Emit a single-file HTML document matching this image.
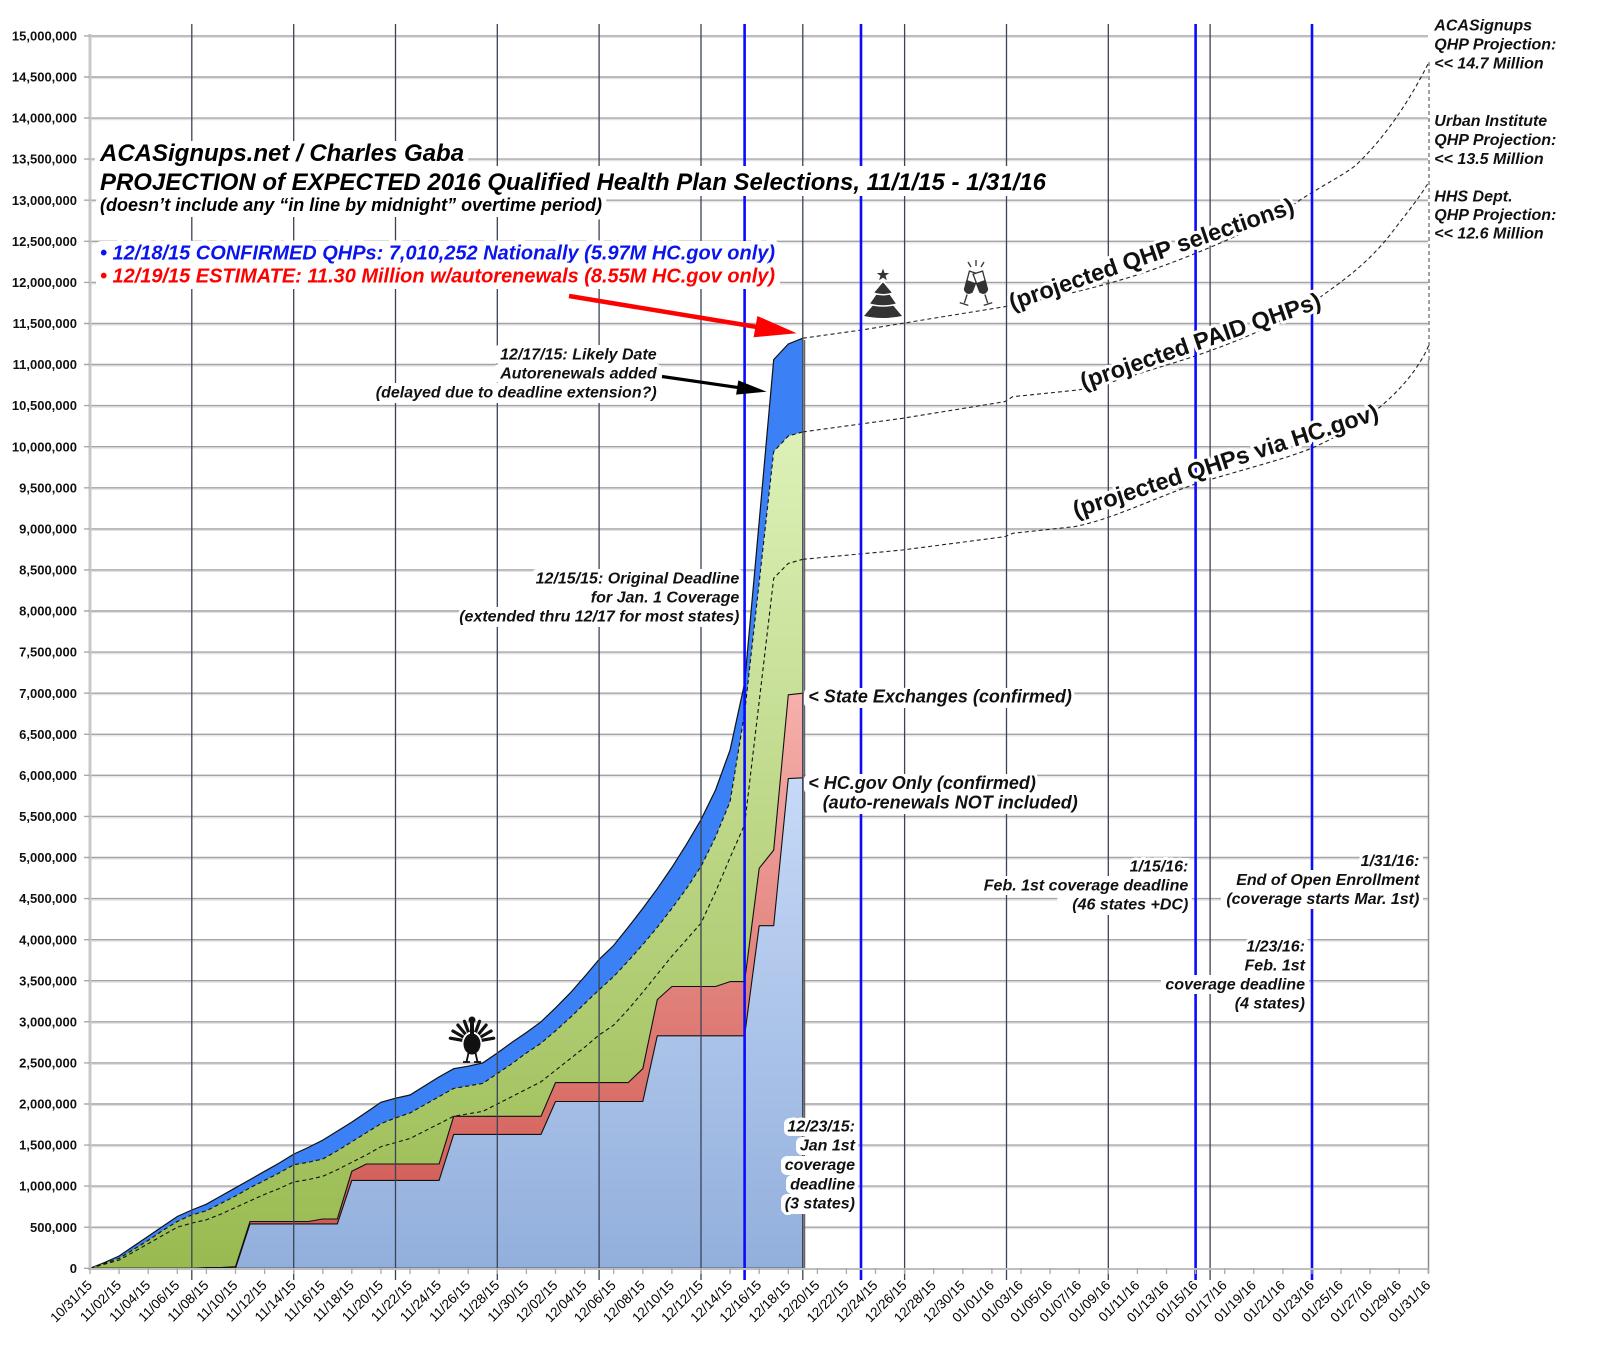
<!DOCTYPE html>
<html><head><meta charset="utf-8"><style>
html,body{margin:0;padding:0;background:#fff;}
svg{display:block;}
text{font-family:"Liberation Sans",Arial,sans-serif;}
.bi{font-weight:bold;font-style:italic;}
.h{stroke:#fff;stroke-width:6px;stroke-linejoin:round;paint-order:stroke fill;}
.hw{stroke:#fff;stroke-width:10px;stroke-linejoin:round;paint-order:stroke fill;}
.yl{font-weight:bold;font-size:13px;text-anchor:end;fill:#111;}
.xl{font-size:13.5px;text-anchor:end;fill:#000;}
.an{font-weight:bold;font-style:italic;font-size:16px;fill:#111;}
</style></head><body>
<svg width="1600" height="1350" viewBox="0 0 1600 1350" xmlns="http://www.w3.org/2000/svg">
<defs>
<linearGradient id="gg" gradientUnits="userSpaceOnUse" x1="0" y1="430" x2="0" y2="1268"><stop offset="0" stop-color="#ddf1b8"/><stop offset="1" stop-color="#99ba50"/></linearGradient>
<linearGradient id="rg" gradientUnits="userSpaceOnUse" x1="0" y1="693" x2="0" y2="1268"><stop offset="0" stop-color="#f6b0ab"/><stop offset="1" stop-color="#cd544d"/></linearGradient>
<linearGradient id="bg" gradientUnits="userSpaceOnUse" x1="0" y1="778" x2="0" y2="1268"><stop offset="0" stop-color="#c6d9f7"/><stop offset="1" stop-color="#92afdc"/></linearGradient>
</defs>
<rect width="1600" height="1350" fill="#fff"/>

<path stroke="#e2e2e2" stroke-width="1.2" fill="none" d="M90 1228.7H1428M90 1187.6H1428M90 1146.6H1428M90 1105.5H1428M90 1064.4H1428M90 1023.3H1428M90 982.2H1428M90 941.2H1428M90 900.1H1428M90 859H1428M90 817.9H1428M90 776.8H1428M90 735.8H1428M90 694.7H1428M90 653.6H1428M90 612.5H1428M90 571.4H1428M90 530.4H1428M90 489.3H1428M90 448.2H1428M90 407.1H1428M90 366H1428M90 325H1428M90 283.9H1428M90 242.8H1428M90 201.7H1428M90 160.6H1428M90 119.6H1428M90 78.5H1428M90 37.4H1428"/>
<path stroke="#a4a4a4" stroke-width="1.4" fill="none" d="M90 1227.2H1428M90 1186.1H1428M90 1145.1H1428M90 1104H1428M90 1062.9H1428M90 1021.8H1428M90 980.7H1428M90 939.7H1428M90 898.6H1428M90 857.5H1428M90 816.4H1428M90 775.3H1428M90 734.3H1428M90 693.2H1428M90 652.1H1428M90 611H1428M90 569.9H1428M90 528.9H1428M90 487.8H1428M90 446.7H1428M90 405.6H1428M90 364.5H1428M90 323.5H1428M90 282.4H1428M90 241.3H1428M90 200.2H1428M90 159.1H1428M90 118.1H1428M90 77H1428M90 35.9H1428"/>

<polygon fill="#3b80f4" points="90,1268.3 104.5,1262.5 119.1,1256.0 133.6,1246.1 148.2,1236.3 162.7,1226.4 177.3,1216.5 191.8,1210.0 206.4,1204.2 220.9,1196.0 235.5,1187.8 250.0,1179.6 264.6,1171.3 279.1,1163.1 293.7,1154.1 308.2,1147.5 322.8,1140.1 337.3,1131.1 351.8,1122.1 366.4,1112.2 380.9,1102.3 395.5,1098.2 410.0,1095.0 424.6,1085.9 439.1,1076.9 453.7,1068.7 468.2,1066.2 482.8,1062.9 497.3,1053.0 511.9,1042.4 526.4,1032.5 541.0,1021.8 555.5,1007.9 570.1,993.1 584.6,976.6 599.1,959.4 613.7,945.4 628.2,927.3 642.8,908.4 657.3,888.7 671.9,867.4 686.4,844.4 701.0,819.7 715.5,790.1 730.1,749.9 744.6,683.3 759.2,521.5 773.7,359.6 788.3,344.0 802.8,338.2 802.8,1268.3"/>
<polyline fill="none" stroke="#111" stroke-width="1.2" points="90,1268.3 104.5,1262.5 119.1,1256.0 133.6,1246.1 148.2,1236.3 162.7,1226.4 177.3,1216.5 191.8,1210.0 206.4,1204.2 220.9,1196.0 235.5,1187.8 250.0,1179.6 264.6,1171.3 279.1,1163.1 293.7,1154.1 308.2,1147.5 322.8,1140.1 337.3,1131.1 351.8,1122.1 366.4,1112.2 380.9,1102.3 395.5,1098.2 410.0,1095.0 424.6,1085.9 439.1,1076.9 453.7,1068.7 468.2,1066.2 482.8,1062.9 497.3,1053.0 511.9,1042.4 526.4,1032.5 541.0,1021.8 555.5,1007.9 570.1,993.1 584.6,976.6 599.1,959.4 613.7,945.4 628.2,927.3 642.8,908.4 657.3,888.7 671.9,867.4 686.4,844.4 701.0,819.7 715.5,790.1 730.1,749.9 744.6,683.3 759.2,521.5 773.7,359.6 788.3,344.0 802.8,338.2"/>

<polygon fill="url(#gg)" points="90,1268.3 104.5,1263.4 119.1,1258.4 133.6,1249.4 148.2,1240.4 162.7,1230.5 177.3,1221.5 191.8,1214.9 206.4,1210.8 220.9,1203.4 235.5,1196.0 250.0,1187.8 264.6,1180.4 279.1,1173.0 293.7,1164.8 308.2,1162.3 322.8,1159.0 337.3,1150.8 351.8,1141.8 366.4,1132.7 380.9,1123.7 395.5,1117.9 410.0,1113.0 424.6,1104.8 439.1,1096.6 453.7,1088.4 468.2,1085.9 482.8,1083.4 497.3,1073.6 511.9,1063.7 526.4,1053.0 541.0,1043.2 555.5,1030.9 570.1,1017.7 584.6,1003.7 599.1,989.8 613.7,976.6 628.2,961.0 642.8,944.6 657.3,927.3 671.9,908.4 686.4,888.7 701.0,866.5 715.5,837.0 730.1,801.6 744.6,712.9 759.2,582.3 773.7,451.6 788.3,436.0 802.8,431.9 802.8,1268.3"/>
<polyline fill="none" stroke="#111" stroke-width="1.1" stroke-dasharray="4 3" points="90,1268.3 104.5,1263.4 119.1,1258.4 133.6,1249.4 148.2,1240.4 162.7,1230.5 177.3,1221.5 191.8,1214.9 206.4,1210.8 220.9,1203.4 235.5,1196.0 250.0,1187.8 264.6,1180.4 279.1,1173.0 293.7,1164.8 308.2,1162.3 322.8,1159.0 337.3,1150.8 351.8,1141.8 366.4,1132.7 380.9,1123.7 395.5,1117.9 410.0,1113.0 424.6,1104.8 439.1,1096.6 453.7,1088.4 468.2,1085.9 482.8,1083.4 497.3,1073.6 511.9,1063.7 526.4,1053.0 541.0,1043.2 555.5,1030.9 570.1,1017.7 584.6,1003.7 599.1,989.8 613.7,976.6 628.2,961.0 642.8,944.6 657.3,927.3 671.9,908.4 686.4,888.7 701.0,866.5 715.5,837.0 730.1,801.6 744.6,712.9 759.2,582.3 773.7,451.6 788.3,436.0 802.8,431.9"/>

<polyline fill="none" stroke="#111" stroke-width="1.1" stroke-dasharray="4 3" points="90,1268.3 104.5,1264.2 119.1,1260.1 133.6,1251.9 148.2,1243.7 162.7,1235.4 177.3,1227.2 191.8,1223.1 206.4,1219.8 220.9,1214.1 235.5,1207.5 250.0,1200.9 264.6,1194.4 279.1,1188.6 293.7,1182.0 308.2,1179.6 322.8,1176.3 337.3,1169.7 351.8,1162.3 366.4,1154.9 380.9,1146.7 395.5,1142.6 410.0,1138.5 424.6,1131.1 439.1,1123.7 453.7,1116.3 468.2,1113.8 482.8,1111.4 497.3,1104.0 511.9,1096.6 526.4,1089.2 541.0,1081.8 555.5,1070.3 570.1,1058.8 584.6,1047.3 599.1,1035.0 613.7,1025.1 628.2,1009.5 642.8,992.2 657.3,974.2 671.9,956.1 686.4,939.7 701.0,923.2 715.5,892.0 730.1,857.5 744.6,824.6 759.2,701.4 773.7,578.2 788.3,563.4 802.8,559.3"/>

<path fill="url(#rg)" stroke="#111" stroke-width="1.1" stroke-linejoin="round" d="M90,1268.3 L191.8,1268.3 L206.4,1267.5 L220.9,1267.5 L235.5,1266.7 L250.0,1221.5 L308.2,1221.5 L322.8,1219.0 L337.3,1219.0 L351.8,1171.3 L366.4,1164.0 L439.1,1164.0 L453.7,1116.3 L541.0,1116.3 L555.5,1082.6 L628.2,1082.6 L642.8,1068.7 L657.3,999.6 L671.9,986.5 L715.5,986.5 L730.1,981.6 L744.6,981.6 L759.2,868.2 L773.7,850.1 L788.3,694.8 L802.8,693.2 L802.8,1268.3 Z"/>
<path fill="url(#bg)" stroke="#111" stroke-width="1.1" stroke-linejoin="round" d="M90,1268.3 L235.5,1268.3 L250.0,1223.9 L337.3,1223.9 L351.8,1180.4 L439.1,1180.4 L453.7,1134.4 L541.0,1134.4 L555.5,1101.5 L642.8,1101.5 L657.3,1035.8 L744.6,1035.8 L759.2,925.7 L773.7,925.7 L788.3,778.6 L802.8,777.8 L802.8,1268.3 Z"/>
<line x1="804.5" y1="340" x2="804.5" y2="1268" stroke="#666" stroke-width="1.5"/>

<g fill="none" stroke="#222" stroke-width="1.1" stroke-dasharray="4 3">
<path d="M802.8,338.2 L861.7,330 L902.5,323.3 L1004.6,306.7 C1060,297 1120,282 1160,267 C1220,245 1270,222 1300,200 C1325,184 1340,177 1355,166 C1385,138 1410,100 1429,62"/>
<path d="M802.8,431.9 L902.5,418.3 L1004.6,401.7 L1012.8,396.7 L1078,390 C1110,384 1140,373 1170,364 C1230,346 1290,320 1323,295 C1350,276 1370,260 1390,235 C1405,215 1418,200 1429,181.7"/>
<path d="M802.8,559.3 L902.5,550 L1004.6,536.7 L1012.8,533.3 L1074,526.7 C1110,520 1150,500 1192.5,485 C1240,470 1290,458 1315,446.7 C1345,433 1365,420 1380.3,406.7 C1400,390 1418,370 1429,345"/>
<path d="M1429,62 V360" stroke="#555"/>
</g>

<path stroke="#3a4456" stroke-width="1.3" fill="none" d="M191.8 24V1280M293.7 24V1280M395.5 24V1280M497.3 24V1280M599.1 24V1280M701 24V1280M802.8 24V1280M904.6 24V1280M1006.5 24V1280M1108.3 24V1280M1210.1 24V1280"/>
<path stroke="#0a0aff" stroke-width="2.6" fill="none" d="M744.6 24V1280M861 24V1280M1195.6 24V1280M1312 24V1280"/>

<line x1="90" y1="34" x2="90" y2="1270" stroke="#c8c8c8" stroke-width="3"/>
<line x1="88" y1="1269" x2="1429" y2="1269" stroke="#bdbdbd" stroke-width="2"/>
<line x1="1428.5" y1="360" x2="1428.5" y2="1273" stroke="#8a8a8a" stroke-width="1.5"/>
<path stroke="#aaa" stroke-width="1.4" fill="none" d="M84 1268.3H90M84 1227.2H90M84 1186.1H90M84 1145.1H90M84 1104H90M84 1062.9H90M84 1021.8H90M84 980.7H90M84 939.7H90M84 898.6H90M84 857.5H90M84 816.4H90M84 775.3H90M84 734.3H90M84 693.2H90M84 652.1H90M84 611H90M84 569.9H90M84 528.9H90M84 487.8H90M84 446.7H90M84 405.6H90M84 364.5H90M84 323.5H90M84 282.4H90M84 241.3H90M84 200.2H90M84 159.1H90M84 118.1H90M84 77H90M84 35.9H90"/>
<path stroke="#aaa" stroke-width="1.3" fill="none" d="M90 1268V1274M119.1 1268V1274M148.2 1268V1274M177.3 1268V1274M206.4 1268V1274M235.5 1268V1274M264.6 1268V1274M293.7 1268V1274M322.8 1268V1274M351.8 1268V1274M380.9 1268V1274M410 1268V1274M439.1 1268V1274M468.2 1268V1274M497.3 1268V1274M526.4 1268V1274M555.5 1268V1274M584.6 1268V1274M613.7 1268V1274M642.8 1268V1274M671.9 1268V1274M701 1268V1274M730.1 1268V1274M759.2 1268V1274M788.3 1268V1274M817.4 1268V1274M846.4 1268V1274M875.5 1268V1274M904.6 1268V1274M933.7 1268V1274M962.8 1268V1274M991.9 1268V1274M1021 1268V1274M1050.1 1268V1274M1079.2 1268V1274M1108.3 1268V1274M1137.4 1268V1274M1166.5 1268V1274M1195.6 1268V1274M1224.7 1268V1274M1253.8 1268V1274M1282.9 1268V1274M1312 1268V1274M1341 1268V1274M1370.1 1268V1274M1399.2 1268V1274M1428.3 1268V1274"/>

<!-- white glow backgrounds behind text -->
<g fill="#fff">
<rect x="96" y="141" width="372" height="26" rx="5"/>
<rect x="96" y="166" width="956" height="30" rx="5"/>
<rect x="96" y="196" width="510" height="21" rx="5"/>
<rect x="96" y="241" width="684" height="23" rx="5"/>
<rect x="96" y="263" width="684" height="26" rx="5"/>
<rect x="494" y="345" width="167" height="19" rx="5"/>
<rect x="494" y="364" width="167" height="19" rx="5"/>
<rect x="372" y="383" width="289" height="20" rx="5"/>
<rect x="532" y="569" width="211" height="19" rx="5"/>
<rect x="587" y="588" width="156" height="19" rx="5"/>
<rect x="471" y="607" width="272" height="20" rx="5"/>
<rect x="804" y="688" width="270" height="20" rx="5"/>
<rect x="804" y="774" width="234" height="20" rx="5"/>
<rect x="818" y="794" width="263" height="20" rx="5"/>
<rect x="1134" y="858" width="58" height="18" rx="5"/>
<rect x="980" y="876" width="212" height="19" rx="5"/>
<rect x="1057" y="895" width="135" height="20" rx="5"/>
<rect x="1365" y="852" width="58" height="18" rx="5"/>
<rect x="1232" y="870" width="191" height="19" rx="5"/>
<rect x="1221" y="889" width="202" height="20" rx="5"/>
<rect x="1251" y="938" width="58" height="18" rx="5"/>
<rect x="1240" y="956" width="69" height="19" rx="5"/>
<rect x="1161" y="975" width="148" height="19" rx="5"/>
<rect x="1230" y="994" width="79" height="20" rx="5"/>
<rect x="784" y="1118" width="74" height="18" rx="6"/>
<rect x="796" y="1137" width="62" height="18" rx="6"/>
<rect x="781" y="1156" width="77" height="19" rx="6"/>
<rect x="786" y="1175" width="72" height="19" rx="6"/>
<rect x="781" y="1194" width="77" height="20" rx="6"/>
</g>

<g class="yl">
<text x="77" y="1272.9">0</text>
<text x="77" y="1231.8">500,000</text>
<text x="77" y="1190.7">1,000,000</text>
<text x="77" y="1149.7">1,500,000</text>
<text x="77" y="1108.6">2,000,000</text>
<text x="77" y="1067.5">2,500,000</text>
<text x="77" y="1026.4">3,000,000</text>
<text x="77" y="985.3">3,500,000</text>
<text x="77" y="944.3">4,000,000</text>
<text x="77" y="903.2">4,500,000</text>
<text x="77" y="862.1">5,000,000</text>
<text x="77" y="821">5,500,000</text>
<text x="77" y="779.9">6,000,000</text>
<text x="77" y="738.9">6,500,000</text>
<text x="77" y="697.8">7,000,000</text>
<text x="77" y="656.7">7,500,000</text>
<text x="77" y="615.6">8,000,000</text>
<text x="77" y="574.5">8,500,000</text>
<text x="77" y="533.5">9,000,000</text>
<text x="77" y="492.4">9,500,000</text>
<text x="77" y="451.3">10,000,000</text>
<text x="77" y="410.2">10,500,000</text>
<text x="77" y="369.1">11,000,000</text>
<text x="77" y="328.1">11,500,000</text>
<text x="77" y="287">12,000,000</text>
<text x="77" y="245.9">12,500,000</text>
<text x="77" y="204.8">13,000,000</text>
<text x="77" y="163.7">13,500,000</text>
<text x="77" y="122.7">14,000,000</text>
<text x="77" y="81.6">14,500,000</text>
<text x="77" y="40.5">15,000,000</text>
</g>

<g class="xl">
<text transform="translate(93,1286) rotate(-45)">10/31/15</text>
<text transform="translate(122.1,1286) rotate(-45)">11/02/15</text>
<text transform="translate(151.2,1286) rotate(-45)">11/04/15</text>
<text transform="translate(180.3,1286) rotate(-45)">11/06/15</text>
<text transform="translate(209.4,1286) rotate(-45)">11/08/15</text>
<text transform="translate(238.5,1286) rotate(-45)">11/10/15</text>
<text transform="translate(267.6,1286) rotate(-45)">11/12/15</text>
<text transform="translate(296.7,1286) rotate(-45)">11/14/15</text>
<text transform="translate(325.8,1286) rotate(-45)">11/16/15</text>
<text transform="translate(354.8,1286) rotate(-45)">11/18/15</text>
<text transform="translate(383.9,1286) rotate(-45)">11/20/15</text>
<text transform="translate(413,1286) rotate(-45)">11/22/15</text>
<text transform="translate(442.1,1286) rotate(-45)">11/24/15</text>
<text transform="translate(471.2,1286) rotate(-45)">11/26/15</text>
<text transform="translate(500.3,1286) rotate(-45)">11/28/15</text>
<text transform="translate(529.4,1286) rotate(-45)">11/30/15</text>
<text transform="translate(558.5,1286) rotate(-45)">12/02/15</text>
<text transform="translate(587.6,1286) rotate(-45)">12/04/15</text>
<text transform="translate(616.7,1286) rotate(-45)">12/06/15</text>
<text transform="translate(645.8,1286) rotate(-45)">12/08/15</text>
<text transform="translate(674.9,1286) rotate(-45)">12/10/15</text>
<text transform="translate(704,1286) rotate(-45)">12/12/15</text>
<text transform="translate(733.1,1286) rotate(-45)">12/14/15</text>
<text transform="translate(762.2,1286) rotate(-45)">12/16/15</text>
<text transform="translate(791.3,1286) rotate(-45)">12/18/15</text>
<text transform="translate(820.4,1286) rotate(-45)">12/20/15</text>
<text transform="translate(849.4,1286) rotate(-45)">12/22/15</text>
<text transform="translate(878.5,1286) rotate(-45)">12/24/15</text>
<text transform="translate(907.6,1286) rotate(-45)">12/26/15</text>
<text transform="translate(936.7,1286) rotate(-45)">12/28/15</text>
<text transform="translate(965.8,1286) rotate(-45)">12/30/15</text>
<text transform="translate(994.9,1286) rotate(-45)">01/01/16</text>
<text transform="translate(1024,1286) rotate(-45)">01/03/16</text>
<text transform="translate(1053.1,1286) rotate(-45)">01/05/16</text>
<text transform="translate(1082.2,1286) rotate(-45)">01/07/16</text>
<text transform="translate(1111.3,1286) rotate(-45)">01/09/16</text>
<text transform="translate(1140.4,1286) rotate(-45)">01/11/16</text>
<text transform="translate(1169.5,1286) rotate(-45)">01/13/16</text>
<text transform="translate(1198.6,1286) rotate(-45)">01/15/16</text>
<text transform="translate(1227.7,1286) rotate(-45)">01/17/16</text>
<text transform="translate(1256.8,1286) rotate(-45)">01/19/16</text>
<text transform="translate(1285.9,1286) rotate(-45)">01/21/16</text>
<text transform="translate(1315,1286) rotate(-45)">01/23/16</text>
<text transform="translate(1344,1286) rotate(-45)">01/25/16</text>
<text transform="translate(1373.1,1286) rotate(-45)">01/27/16</text>
<text transform="translate(1402.2,1286) rotate(-45)">01/29/16</text>
<text transform="translate(1431.3,1286) rotate(-45)">01/31/16</text>
</g>

<g fill="#333">
<polygon points="883,268.5 884.6,273 889.2,273 885.5,275.8 886.9,280.3 883,277.6 879.1,280.3 880.5,275.8 876.8,273 881.4,273"/>
<path d="M875,303 L891,303 L902,316 Q883,320 864,316Z"/>
<path d="M878,291 L888,291 L897,304 Q883,308 869,304Z" stroke="#fff" stroke-width="1.5"/>
<path d="M883,281 L893,293 Q883,296.5 873,293Z" stroke="#fff" stroke-width="1.5"/>
</g>
<g stroke="#333" stroke-width="1.3" fill="#fff">
<g transform="rotate(18 964 304)">
<path d="M959,271 L969,271 L968,290 Q964,295 960,290Z"/>
<path d="M959.5,281 L968.5,281 L968,290 Q964,295 960,290Z" fill="#333"/>
<line x1="964" y1="294" x2="964" y2="303"/><line x1="959.5" y1="304" x2="968.5" y2="304"/>
</g>
<g transform="rotate(-18 988 304)">
<path d="M983,271 L993,271 L992,290 Q988,295 984,290Z"/>
<path d="M983.5,281 L992.5,281 L992,290 Q988,295 984,290Z" fill="#333"/>
<line x1="988" y1="294" x2="988" y2="303"/><line x1="983.5" y1="304" x2="992.5" y2="304"/>
</g>
<path d="M976,266 L976,260 M971,267 L968,262 M981,267 L984,262" fill="none"/>
</g>
<g stroke="#111" stroke-width="3.2" stroke-linecap="round">
<line x1="472" y1="1042" x2="493.7" y2="1038.2"/>
<line x1="472" y1="1042" x2="491.1" y2="1031"/>
<line x1="472" y1="1042" x2="486.1" y2="1025.1"/>
<line x1="472" y1="1042" x2="479.5" y2="1021.3"/>
<line x1="472" y1="1042" x2="464.5" y2="1021.3"/>
<line x1="472" y1="1042" x2="457.9" y2="1025.1"/>
<line x1="472" y1="1042" x2="452.9" y2="1031"/>
<line x1="472" y1="1042" x2="450.3" y2="1038.2"/>
</g>
<ellipse cx="472" cy="1043" rx="10" ry="11.5" fill="#fff"/>
<ellipse cx="472" cy="1044" rx="8.5" ry="10.5" fill="#111"/>
<rect x="470" y="1021" width="4" height="14" fill="#111"/>
<circle cx="472" cy="1020" r="3.5" fill="#111"/>
<g stroke="#111" stroke-width="1.8"><line x1="468.5" y1="1053" x2="466.5" y2="1062"/><line x1="475.5" y1="1053" x2="477.5" y2="1062"/><line x1="463" y1="1062" x2="470" y2="1062"/><line x1="474" y1="1062" x2="481" y2="1062"/></g>

<g class="bi">
<text class="hw" x="100" y="161" font-size="24" fill="#000">ACASignups.net / Charles Gaba</text>
<text class="hw" x="100" y="190" font-size="24" fill="#000" textLength="946" lengthAdjust="spacingAndGlyphs">PROJECTION of EXPECTED 2016 Qualified Health Plan Selections, 11/1/15 - 1/31/16</text>
<text class="hw" x="100" y="211" font-size="18" fill="#000" textLength="502" lengthAdjust="spacingAndGlyphs">(doesn’t include any “in line by midnight” overtime period)</text>
<text class="hw" x="100" y="259.3" font-size="20" fill="#0a14f0" textLength="675" lengthAdjust="spacingAndGlyphs">• 12/18/15 CONFIRMED QHPs: 7,010,252 Nationally (5.97M HC.gov only)</text>
<text class="hw" x="100" y="282.7" font-size="20" fill="#ff0000" textLength="675" lengthAdjust="spacingAndGlyphs">• 12/19/15 ESTIMATE: 11.30 Million w/autorenewals (8.55M HC.gov only)</text>
</g>

<g class="an" text-anchor="end">
<text class="h" x="656.7" y="359.3">12/17/15: Likely Date</text>
<text class="h" x="656.7" y="378.5">Autorenewals added</text>
<text class="h" x="656.7" y="397.7">(delayed due to deadline extension?)</text>
<text class="h" x="739.3" y="583.3">12/15/15: Original Deadline</text>
<text class="h" x="739.3" y="602.5">for Jan. 1 Coverage</text>
<text class="h" x="739.3" y="621.7">(extended thru 12/17 for most states)</text>
<text class="h" x="1188.3" y="871.7">1/15/16:</text>
<text class="h" x="1188.3" y="890.7">Feb. 1st coverage deadline</text>
<text class="h" x="1188.3" y="909.7">(46 states +DC)</text>
<text class="h" x="1419.3" y="866">1/31/16:</text>
<text class="h" x="1419.3" y="885">End of Open Enrollment</text>
<text class="h" x="1419.3" y="904">(coverage starts Mar. 1st)</text>
<text class="h" x="1305" y="951.7">1/23/16:</text>
<text class="h" x="1305" y="970.7">Feb. 1st</text>
<text class="h" x="1305" y="989.7">coverage deadline</text>
<text class="h" x="1305" y="1008.7">(4 states)</text>
<text class="h" x="855" y="1131.5">12/23/15:</text>
<text class="h" x="855" y="1150.7">Jan 1st</text>
<text class="h" x="855" y="1170">coverage</text>
<text class="h" x="855" y="1189.3">deadline</text>
<text class="h" x="855" y="1208.5">(3 states)</text>
</g>
<g class="bi" font-size="18" fill="#111">
<text class="h" x="808.3" y="702.7">&lt; State Exchanges (confirmed)</text>
<text class="h" x="808.3" y="789">&lt; HC.gov Only (confirmed)</text>
<text class="h" x="822.7" y="808.3">(auto-renewals NOT included)</text>
</g>
<g class="an" font-size="16">
<text x="1434.3" y="30.7">ACASignups</text>
<text x="1434.3" y="49.3">QHP Projection:</text>
<text x="1434.3" y="68.3">&lt;&lt; 14.7 Million</text>
<text x="1434.3" y="126">Urban Institute</text>
<text x="1434.3" y="145">QHP Projection:</text>
<text x="1434.3" y="164">&lt;&lt; 13.5 Million</text>
<text x="1434.3" y="201.3">HHS Dept.</text>
<text x="1434.3" y="220">QHP Projection:</text>
<text x="1434.3" y="238.7">&lt;&lt; 12.6 Million</text>
</g>

<g font-weight="bold" font-size="23.5" fill="#111" text-anchor="middle">
<text class="h" transform="translate(1154,261.5) rotate(-19)">(projected QHP selections)</text>
<text class="h" transform="translate(1203,348.5) rotate(-19)">(projected PAID QHPs)</text>
<text class="h" transform="translate(1228,468.5) rotate(-18)">(projected QHPs via HC.gov)</text>
</g>

<line x1="569" y1="296" x2="757" y2="327" stroke="#ff0000" stroke-width="4.5"/>
<polygon points="796.7,333.3 757.4,316 753.6,337.2" fill="#ff0000"/>
<line x1="662" y1="376.5" x2="740" y2="387.8" stroke="#000" stroke-width="3.2"/>
<polygon points="766.7,391.7 738.3,380.4 736.1,394.6" fill="#000"/>
</svg>
</body></html>
